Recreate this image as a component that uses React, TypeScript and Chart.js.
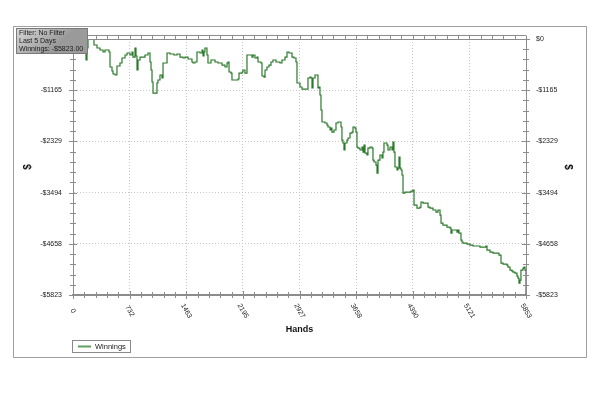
import React, { useEffect, useRef } from 'react';
import { Chart, registerables } from 'chart.js';
Chart.register(...registerables);

const hands = [
  0, 65, 116, 168, 181, 194, 245, 271, 310, 349,
  388, 413, 452, 465, 478, 504, 517, 543, 568, 607,
  633, 672, 698, 736, 762, 775, 801, 814, 827, 840,
  866, 904, 930, 969, 995, 1008, 1021, 1034, 1072, 1085,
  1098, 1124, 1150, 1163, 1215, 1253, 1305, 1344, 1382, 1421,
  1447, 1486, 1537, 1550, 1576, 1602, 1641, 1667, 1680, 1693,
  1705, 1731, 1744, 1783, 1835, 1873, 1925, 1964, 1990, 2003,
  2016, 2041, 2054, 2106, 2132, 2145, 2184, 2196, 2222, 2248,
  2287, 2313, 2326, 2351, 2377, 2390, 2429, 2442, 2468, 2481,
  2506, 2532, 2558, 2584, 2623, 2649, 2674, 2700, 2739, 2765,
  2791, 2830, 2855, 2881, 2894, 2907, 2933, 2959, 3023, 3036,
  3062, 3075, 3088, 3101, 3127, 3153, 3165, 3178, 3191, 3204,
  3217, 3256, 3282, 3295, 3321, 3333, 3346, 3372, 3398, 3424,
  3450, 3463, 3475, 3488, 3501, 3514, 3540, 3553, 3579, 3605,
  3618, 3643, 3656, 3669, 3682, 3708, 3734, 3747, 3760, 3773,
  3798, 3811, 3837, 3863, 3876, 3889, 3915, 3928, 3941, 3966,
  3992, 4005, 4018, 4057, 4070, 4096, 4122, 4134, 4147, 4160,
  4186, 4199, 4212, 4225, 4238, 4251, 4264, 4289, 4328, 4367,
  4393, 4406, 4444, 4483, 4496, 4522, 4561, 4587, 4612, 4651,
  4690, 4716, 4742, 4755, 4780, 4832, 4871, 4884, 4897, 4923,
  4961, 4974, 4987, 5013, 5026, 5039, 5091, 5129, 5168, 5220,
  5259, 5297, 5336, 5349, 5388, 5427, 5478, 5504, 5530, 5556,
  5607, 5620, 5646, 5672, 5685, 5711, 5736, 5749, 5762, 5775,
  5788, 5814, 5827, 5840, 5853,
];

const winnings = [
  0, -114, -68, -478, -205, 0, 0, -137, -205, -250,
  -296, -250, -250, -296, -637, -728, -796, -819, -614, -546,
  -432, -364, -319, -364, -296, -410, -205, -387, -705, -478,
  -410, -410, -364, -319, -523, -705, -978, -1229, -1229, -1001,
  -933, -819, -887, -546, -319, -341, -364, -341, -410, -432,
  -410, -455, -523, -546, -523, -296, -319, -250, -387, -296,
  -205, -364, -546, -478, -523, -546, -592, -637, -546, -523,
  -751, -774, -933, -933, -910, -774, -751, -705, -774, -364,
  -364, -410, -364, -432, -410, -523, -546, -842, -865, -705,
  -637, -592, -523, -478, -523, -523, -546, -478, -410, -296,
  -319, -410, -432, -523, -1001, -1001, -1092, -1138, -1138, -887,
  -865, -887, -1115, -887, -819, -819, -1115, -1092, -1274, -1615,
  -1888, -1911, -1957, -2002, -2070, -2025, -2116, -2070, -1911, -1888,
  -1888, -2002, -2298, -2366, -2525, -2366, -2298, -2252, -2139, -2116,
  -2002, -2025, -2116, -2457, -2480, -2525, -2457, -2571, -2412, -2594,
  -2639, -2480, -2457, -2480, -2753, -2798, -2867, -3049, -2753, -2639,
  -2707, -2571, -2366, -2412, -2525, -2457, -2525, -2343, -2571, -2912,
  -2980, -2935, -2685, -2935, -2980, -3094, -3504, -3481, -3481, -3458,
  -3435, -3777, -3845, -3822, -3708, -3731, -3731, -3822, -3845, -3890,
  -3936, -3890, -4004, -4186, -4232, -4277, -4300, -4414, -4345, -4345,
  -4391, -4345, -4414, -4573, -4618, -4641, -4664, -4687, -4709, -4709,
  -4732, -4732, -4709, -4800, -4846, -4869, -4869, -4914, -5096, -5119,
  -5142, -5187, -5255, -5278, -5301, -5324, -5392, -5437, -5551, -5483,
  -5255, -5210, -5187, -5255, -5823,
];

const xMin = 0;
const xMax = 5853;
const yMin = -5823;
const yMax = 0;
const xTickValues = [0, 731.6, 1463.3, 2194.9, 2926.5, 3658.1, 4389.8, 5121.4, 5853];
const xTickLabels = ['0', '732', '1463', '2195', '2927', '3658', '4390', '5121', '5853'];
const yTickValues = [0, -1164.6, -2329.2, -3493.8, -4658.4, -5823];
const yTickLabels = ['$0', '-$1165', '-$2329', '-$3494', '-$4658', '-$5823'];
const infoLines = ['Filter: No Filter', 'Last 5 Days', 'Winnings: -$5823.00'];
const seriesName = 'Winnings';
const xTitle = 'Hands';
const yTitle = '$';

const FONT = '"Liberation Sans", Arial, sans-serif';
const LINE_COLOR = '#2b7a2b';
const AXIS_COLOR = '#8c8c8c';

const decorPlugin = {
  id: 'decor',
  beforeDraw(chart: any) {
    const ctx = chart.ctx;
    ctx.save();
    ctx.fillStyle = '#ffffff';
    ctx.fillRect(0, 0, chart.width, chart.height);
    ctx.strokeStyle = '#a0a0a0';
    ctx.lineWidth = 1;
    ctx.strokeRect(13.5, 26.5, 573, 331);
    ctx.restore();
  },
  afterDraw(chart: any) {
    const ctx = chart.ctx;
    const a = chart.chartArea;
    const xs = chart.scales.x;
    const ys = chart.scales.y;
    ctx.save();
    const seg = (x1: number, y1: number, x2: number, y2: number) => {
      ctx.beginPath();
      ctx.moveTo(x1, y1);
      ctx.lineTo(x2, y2);
      ctx.stroke();
    };
    ctx.strokeStyle = AXIS_COLOR;
    ctx.lineWidth = 1;
    seg(a.left, a.top - 3.5, a.right, a.top - 3.5);
    seg(a.left, a.top + 0.5, a.right, a.top + 0.5);
    for (let i = 0; i <= 40; i++) {
      const px = Math.round(xs.getPixelForValue(xMin + (i * (xMax - xMin)) / 40)) + 0.5;
      const len = i % 5 === 0 ? 4 : 3;
      seg(px, a.bottom - len, px, a.bottom + len);
      seg(px, a.top - 3.5, px, a.top + 0.5);
    }
    for (let j = 0; j <= 25; j++) {
      const py = Math.round(ys.getPixelForValue(yMin + (j * (yMax - yMin)) / 25)) + 0.5;
      const len = j % 5 === 0 ? 4 : 3;
      seg(a.left - len, py, a.left + len, py);
      seg(a.right - len, py, a.right + len, py);
    }
    ctx.fillStyle = '#222';
    ctx.font = `7px ${FONT}`;
    xTickValues.forEach((v, i) => {
      const px = xs.getPixelForValue(v);
      ctx.save();
      ctx.translate(px, a.bottom + 16);
      ctx.rotate(Math.PI / 3);
      ctx.textAlign = 'center';
      ctx.textBaseline = 'middle';
      ctx.fillText(xTickLabels[i], 0, 0);
      ctx.restore();
    });
    ctx.fillStyle = '#111';
    ctx.font = `bold 9px ${FONT}`;
    ctx.textAlign = 'center';
    ctx.textBaseline = 'middle';
    ctx.fillText(xTitle, (a.left + a.right) / 2, 330);
    const midY = (a.top + a.bottom) / 2;
    ctx.font = `bold 10px ${FONT}`;
    ctx.save();
    ctx.translate(28, midY);
    ctx.rotate(-Math.PI / 2);
    ctx.fillText(yTitle, 0, 0);
    ctx.restore();
    ctx.save();
    ctx.translate(568, midY);
    ctx.rotate(Math.PI / 2);
    ctx.fillText(yTitle, 0, 0);
    ctx.restore();
    ctx.strokeStyle = '#8a8a8a';
    ctx.lineWidth = 1;
    ctx.strokeRect(72.5, 340.5, 58, 12);
    ctx.strokeStyle = '#5f9f5f';
    ctx.lineWidth = 2;
    seg(78, 346.5, 91, 346.5);
    ctx.fillStyle = '#222';
    ctx.font = `7.5px ${FONT}`;
    ctx.textAlign = 'left';
    ctx.textBaseline = 'middle';
    ctx.fillText(seriesName, 95, 347);
    const g = ctx.createLinearGradient(16, 28, 40, 58);
    g.addColorStop(0, '#dadada');
    g.addColorStop(1, '#9a9a9a');
    ctx.fillStyle = g;
    ctx.fillRect(16, 28, 72, 26);
    ctx.strokeStyle = '#7a7a7a';
    ctx.lineWidth = 1;
    ctx.strokeRect(16.5, 28.5, 71, 25);
    ctx.fillStyle = '#1a1a1a';
    ctx.font = `7px ${FONT}`;
    ctx.textAlign = 'left';
    ctx.textBaseline = 'middle';
    infoLines.forEach((t, i) => ctx.fillText(t, 19, 33 + i * 8));
    ctx.restore();
  },
};

export default function App() {
  const ref = useRef<HTMLCanvasElement>(null);
  useEffect(() => {
    if (!ref.current) return;
    const chart = new Chart(ref.current, {
      type: 'line',
      data: {
        datasets: [
          {
            label: seriesName,
            data: hands.map((h, i) => ({ x: h, y: winnings[i] })),
            borderColor: LINE_COLOR,
            borderWidth: 1.2,
            pointRadius: 0,
            stepped: true,
            fill: false,
          },
        ],
      },
      options: {
        responsive: false,
        animation: false,
        devicePixelRatio: 1,
        layout: { padding: { top: 39, left: 0, right: 0, bottom: 0 } },
        plugins: { legend: { display: false }, tooltip: { enabled: false } },
        scales: {
          x: {
            type: 'linear',
            position: 'bottom',
            min: xMin,
            max: xMax,
            afterBuildTicks: (s: any) => {
              s.ticks = xTickValues.map((v) => ({ value: v }));
            },
            afterFit: (s: any) => {
              s.height = 105;
            },
            ticks: { display: false },
            grid: { color: '#c4c4c4', lineWidth: 1, drawTicks: false },
            border: { display: true, color: AXIS_COLOR, width: 2, dash: [1, 2] },
          },
          y: {
            type: 'linear',
            position: 'left',
            min: yMin,
            max: yMax,
            afterBuildTicks: (s: any) => {
              s.ticks = yTickValues.map((v) => ({ value: v }));
            },
            afterFit: (s: any) => {
              s.width = 73;
            },
            ticks: {
              padding: 11,
              color: '#222',
              font: { family: FONT, size: 7 },
              callback: (_v: any, i: number) => yTickLabels[i],
            },
            grid: { color: '#c4c4c4', lineWidth: 1, drawTicks: false },
            border: { display: true, color: AXIS_COLOR, width: 1, dash: [1, 2] },
          },
          y2: {
            type: 'linear',
            position: 'right',
            min: yMin,
            max: yMax,
            afterBuildTicks: (s: any) => {
              s.ticks = yTickValues.map((v) => ({ value: v }));
            },
            afterFit: (s: any) => {
              s.width = 74;
            },
            ticks: {
              padding: 10,
              color: '#222',
              font: { family: FONT, size: 7 },
              callback: (_v: any, i: number) => yTickLabels[i],
            },
            grid: { drawOnChartArea: false, drawTicks: false },
            border: { display: true, color: AXIS_COLOR, width: 1 },
          },
        },
      },
      plugins: [decorPlugin],
    });
    return () => chart.destroy();
  }, []);
  return (
    <div style={{ position: 'absolute', left: 0, top: 0, width: 600, height: 400 }}>
      <canvas ref={ref} width={600} height={400} style={{ width: 600, height: 400 }} />
    </div>
  );
}
